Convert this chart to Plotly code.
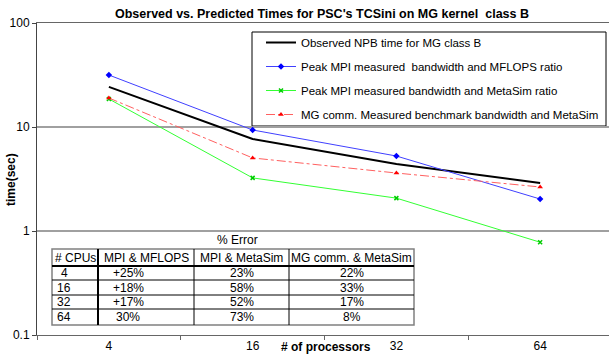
import plotly.graph_objects as go

# ---------------- data ----------------
cpus = ["4", "16", "32", "64"]
observed = [24.3, 7.67, 4.41, 2.90]
mpi_mflops = [31.6, 9.36, 5.26, 2.03]
mpi_metasim = [18.6, 3.24, 2.07, 0.78]
mgcomm_metasim = [19.0, 5.04, 3.61, 2.65]

series_names = [
    "Observed NPB time for MG class B",
    "Peak MPI measured  bandwidth and MFLOPS ratio",
    "Peak MPI measured bandwidth and MetaSim ratio",
    "MG comm. Measured benchmark bandwidth and MetaSim",
]

y_tickvals = [0.1, 1, 10, 100]
y_ticktext = ["0.1", "1", "10", "100"]

title_text = "Observed vs. Predicted Times for PSC's TCSini on MG kernel  class B"
x_title = "# of processors"
y_title = "time(sec)"

table_caption = "% Error"
table_header = ["# CPUs", "MPI & MFLOPS", "MPI & MetaSim", "MG comm. & MetaSim"]
table_cpus = ["4", "16", "32", "64"]
table_mpi_mflops = ["+25%", "+18%", "+17%", "30%"]
table_mpi_metasim = ["23%", "58%", "52%", "73%"]
table_mg_metasim = ["22%", "33%", "17%", "8%"]

# ---------------- layout helpers ----------------
W, H = 609, 360
ML, MR, MT, MB = 37, 0, 23, 25
PW, PH = W - ML - MR, H - MT - MB
FONT = "Liberation Sans, Arial, sans-serif"


def px(xp):
    return (xp - ML) / PW


def py(yp):
    return (H - MB - yp) / PH


fig = go.Figure()

styles = [
    dict(line=dict(color="#000000", width=2), mode="lines"),
    dict(line=dict(color="#4040FF", width=1), mode="lines+markers",
         marker=dict(symbol="diamond", size=5, color="#0000FF")),
    dict(line=dict(color="#33FF33", width=1), mode="lines+markers",
         marker=dict(symbol="x-thin", size=4, color="#00CC00",
                     line=dict(width=1.5, color="#00CC00"))),
    dict(line=dict(color="#FF6060", width=1, dash="dashdot"), mode="lines+markers",
         marker=dict(symbol="triangle-up", size=5, color="#FF0000")),
]
values = [observed, mpi_mflops, mpi_metasim, mgcomm_metasim]
for i, (name, vals, st) in enumerate(zip(series_names, values, styles)):
    fig.add_trace(go.Scatter(x=cpus, y=vals, name=name, legendgroup=str(i), **st))

shapes = []
annotations = []

# legend frame
shapes.append(dict(type="rect", xref="paper", yref="paper",
                   x0=px(252), x1=px(606), y0=py(126), y1=py(32),
                   line=dict(color="#000000", width=1), fillcolor="white", layer="below"))

# table
col_x = [52, 98, 194, 289, 414]
row_y = [249, 266, 280, 295, 309, 325]
shapes.append(dict(type="rect", xref="paper", yref="paper",
                   x0=px(col_x[0]), x1=px(col_x[-1]), y0=py(row_y[-1]), y1=py(row_y[0]),
                   line=dict(color="#808080", width=1.5), fillcolor="white", layer="above"))
for j, yv in enumerate(row_y[1:-1], start=1):
    shapes.append(dict(type="line", xref="paper", yref="paper",
                       x0=px(col_x[0]), x1=px(col_x[-1]), y0=py(yv), y1=py(yv),
                       line=dict(color="#000000", width=2 if j == 1 else 1)))
for k, xv in enumerate(col_x[1:-1], start=1):
    shapes.append(dict(type="line", xref="paper", yref="paper",
                       x0=px(xv), x1=px(xv), y0=py(row_y[-1]), y1=py(row_y[0]),
                       line=dict(color="#000000", width=2 if k == 1 else 1)))

tfont = dict(family=FONT, size=12, color="#000000")
annotations.append(dict(text=table_caption, xref="paper", yref="paper",
                        x=px((col_x[0] + col_x[-1]) / 2 + 4), y=py(240),
                        showarrow=False, font=tfont, xanchor="center", yanchor="middle"))
for c, htxt in enumerate(table_header):
    annotations.append(dict(text=htxt, xref="paper", yref="paper",
                            x=px((col_x[c] + col_x[c + 1]) / 2), y=py((row_y[0] + row_y[1]) / 2),
                            showarrow=False, font=tfont, xanchor="center", yanchor="middle"))
columns = [table_cpus, table_mpi_mflops, table_mpi_metasim, table_mg_metasim]
col_centers = [64, 128, (col_x[2] + col_x[3]) / 2, (col_x[3] + col_x[4]) / 2]
for c, col in enumerate(columns):
    for r, txt in enumerate(col):
        annotations.append(dict(text=txt, xref="paper", yref="paper",
                                x=px(col_centers[c]), y=py((row_y[r + 1] + row_y[r + 2]) / 2),
                                showarrow=False, font=tfont, xanchor="center", yanchor="middle"))

# axis titles
annotations.append(dict(text="<b>" + x_title + "</b>", xref="paper", yref="paper",
                        x=px(326), y=py(347), showarrow=False,
                        font=dict(family=FONT, size=12, color="#000000"),
                        xanchor="center", yanchor="middle"))
annotations.append(dict(text="<b>" + y_title + "</b>", xref="paper", yref="paper",
                        x=px(11), y=py(180), showarrow=False, textangle=-90,
                        font=dict(family=FONT, size=12, color="#000000"),
                        xanchor="center", yanchor="middle"))

fig.update_layout(
    width=W, height=H,
    margin=dict(l=ML, r=MR, t=MT, b=MB, pad=0),
    paper_bgcolor="white", plot_bgcolor="white",
    font=dict(family=FONT, size=12, color="#000000"),
    title=dict(text="<b>" + title_text + "</b>", x=px(322), xref="paper", xanchor="center",
               y=1 - 14 / H, yanchor="middle", font=dict(family=FONT, size=12.5)),
    showlegend=True,
    legend=dict(x=px(261), y=py(28), xanchor="left", yanchor="top",
                bgcolor="rgba(0,0,0,0)", borderwidth=0,
                traceorder="grouped", tracegroupgap=5,
                font=dict(family=FONT, size=11.5, color="#000000")),
    xaxis=dict(type="category", range=[-0.5, 3.479], showgrid=False,
               showline=True, linecolor="#666666", linewidth=1, mirror=True,
               ticks="outside", tickson="boundaries", ticklen=4, tickcolor="#666666",
               tickfont=dict(family=FONT, size=12), zeroline=False),
    yaxis=dict(type="log", range=[-1, 2], tickvals=y_tickvals, ticktext=y_ticktext,
               showgrid=True, gridcolor="#A0A0A0", gridwidth=1.5,
               showline=True, linecolor="#444444", linewidth=1,
               ticks="outside", ticklen=4, tickcolor="#444444",
               tickfont=dict(family=FONT, size=12), zeroline=False),
    shapes=shapes,
    annotations=annotations,
)

fig.write_html("out.html")
